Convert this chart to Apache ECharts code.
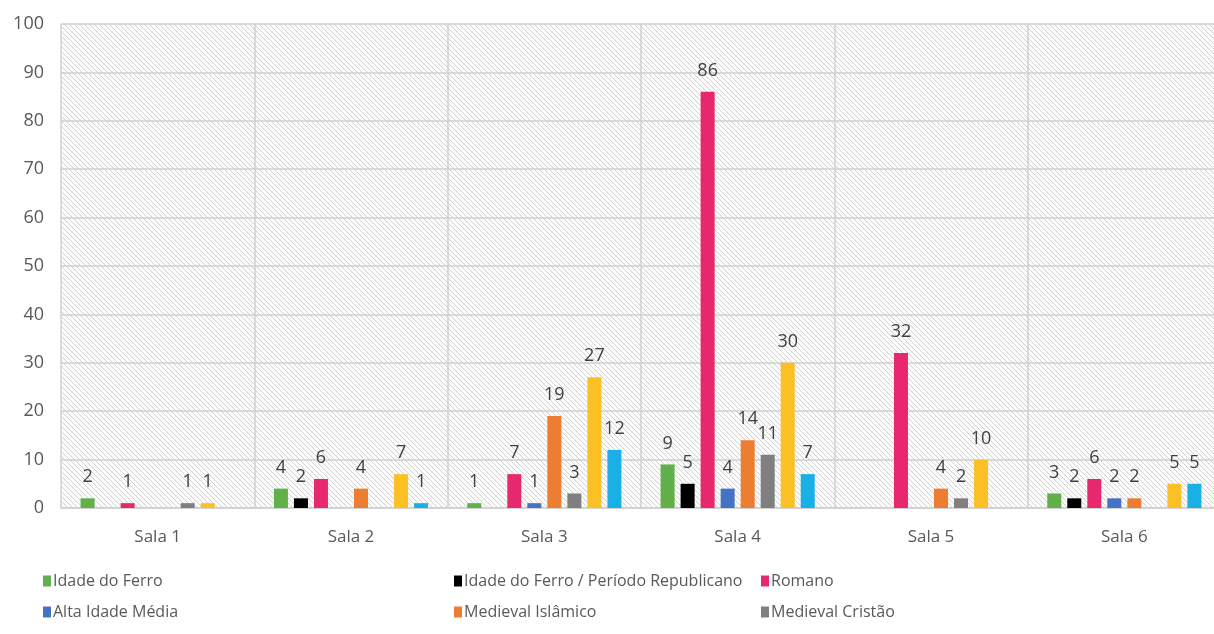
<!DOCTYPE html>
<html><head><meta charset="utf-8">
<script src="https://cdn.jsdelivr.net/npm/echarts@6/dist/echarts.min.js"></script>
<style>html,body{margin:0;padding:0;background:#fff;overflow:hidden}#c{width:1224px;height:634px}</style>
</head><body><div id="c"></div>
<script>
const categories = ['Sala 1','Sala 2','Sala 3','Sala 4','Sala 5','Sala 6'];
const seriesNames = ['Idade do Ferro','Idade do Ferro / Período Republicano','Romano','Alta Idade Média','Medieval Islâmico','Medieval Cristão','Moderno','Contemporâneo'];
const idadeFerro      = [2, 4, 1, 9, 0, 3];
const ferroRepublicano= [0, 2, 0, 5, 0, 2];
const romano          = [1, 6, 7, 86, 32, 6];
const altaIdadeMedia  = [0, 0, 1, 4, 0, 2];
const medievalIslamico= [0, 4, 19, 14, 4, 2];
const medievalCristao = [1, 0, 3, 11, 2, 0];
const moderno         = [1, 7, 27, 30, 10, 5];
const contemporaneo   = [0, 1, 12, 7, 0, 5];
const yTicks = [0,10,20,30,40,50,60,70,80,90,100];

const values = [idadeFerro, ferroRepublicano, romano, altaIdadeMedia, medievalIslamico, medievalCristao, moderno, contemporaneo];
const colors = ['#62b04a','#000000','#e8286e','#4472c4','#ed7d31','#7f7f7f','#fcbf24','#1ab0e6'];

// hatch pattern
const pc = document.createElement('canvas');
pc.width = 5; pc.height = 5;
const px = pc.getContext('2d');
px.fillStyle = '#fcfcfc'; px.fillRect(0,0,5,5);
px.strokeStyle = '#d2d2d2'; px.lineWidth = 1;
px.beginPath();
px.moveTo(-1,-1); px.lineTo(6,6);
px.moveTo(-1,4); px.lineTo(1,6);
px.moveTo(4,-1); px.lineTo(6,1);
px.stroke();

const chart = echarts.init(document.getElementById('c'));
const series = values.map((v,i)=>({
  name: seriesNames[i], type:'bar', data: v,
  barWidth: 14, barGap: '43%',
  itemStyle:{color: colors[i]},
  label:{show:true, position:'top', distance:12, color:'#404040', fontSize:18, fontFamily:'Open Sans',
    formatter: p => p.value ? String(p.value) : ''}
}));

const legendPos = [[38,568],[449,568],[756,568],[38,599],[449,599],[756,599]];
const legends = legendPos.map((p,i)=>({
  data:[seriesNames[i]], left:p[0], top:p[1], itemWidth:8, itemHeight:11, icon:'rect', itemGap:0,
  textStyle:{color:'#595959', fontSize:16, fontFamily:'Open Sans', padding:[0,0,0,-3]}
}));

chart.setOption({
  animation:false,
  backgroundColor:'#fff',
  legend: legends,
  grid:{left:61, right:3, top:24, bottom:126, show:true, borderWidth:0,
    backgroundColor:{image:pc, repeat:'repeat'}},
  xAxis:{type:'category', data:categories,
    axisLine:{lineStyle:{color:'#d0d0d0', width:1.5}},
    axisTick:{show:false},
    splitLine:{show:true, lineStyle:{color:'#d0d0d0', width:1.5}},
    axisLabel:{color:'#595959', fontSize:17, fontFamily:'Open Sans', margin:21}},
  yAxis:{type:'value', min:yTicks[0], max:yTicks[yTicks.length-1], interval:10,
    axisLine:{show:false}, axisTick:{show:false},
    splitLine:{lineStyle:{color:'#d0d0d0', width:1.5}},
    axisLabel:{color:'#595959', fontSize:18, fontFamily:'Open Sans', margin:17}},
  series: series
});
</script></body></html>
